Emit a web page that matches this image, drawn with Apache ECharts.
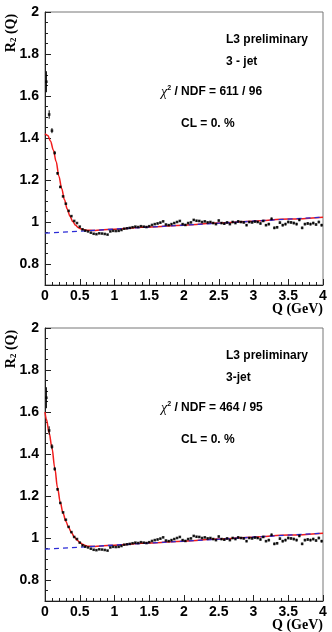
<!DOCTYPE html>
<html>
<head>
<meta charset="utf-8">
<script src="https://cdn.jsdelivr.net/npm/echarts@6/dist/echarts.min.js"></script>
<style>
  html, body { margin: 0; padding: 0; background: #fff; }
  #chart { width: 332px; height: 632px; }
</style>
</head>
<body>
<div id="chart"></div>
<script>
// bin centres (GeV) and measured R2(Q), same data in both panels
const qCenters = [
  0.02, 0.06, 0.10, 0.14, 0.18, 0.22, 0.26, 0.30, 0.34, 0.38,
  0.42, 0.46, 0.50, 0.54, 0.58, 0.62, 0.66, 0.70, 0.74, 0.78,
  0.82, 0.86, 0.90, 0.94, 0.98, 1.02, 1.06, 1.10, 1.14, 1.18,
  1.22, 1.26, 1.30, 1.34, 1.38, 1.42, 1.46, 1.50, 1.54, 1.58,
  1.62, 1.66, 1.70, 1.74, 1.78, 1.82, 1.86, 1.90, 1.94, 1.98,
  2.02, 2.06, 2.10, 2.14, 2.18, 2.22, 2.26, 2.30, 2.34, 2.38,
  2.42, 2.46, 2.50, 2.54, 2.58, 2.62, 2.66, 2.70, 2.74, 2.78,
  2.82, 2.86, 2.90, 2.94, 2.98, 3.02, 3.06, 3.10, 3.14, 3.18,
  3.22, 3.26, 3.30, 3.34, 3.38, 3.42, 3.46, 3.50, 3.54, 3.58,
  3.62, 3.66, 3.70, 3.74, 3.78, 3.82, 3.86, 3.90, 3.94, 3.98,
];
const r2Values = [
  1.668, 1.512, 1.435, 1.329, 1.232, 1.167, 1.122, 1.087, 1.053, 1.028,
  1.005, 0.995, 0.978, 0.965, 0.959, 0.955, 0.949, 0.944, 0.942, 0.946,
  0.945, 0.943, 0.940, 0.955, 0.958, 0.957, 0.958, 0.962, 0.968, 0.970,
  0.972, 0.975, 0.978, 0.976, 0.980, 0.978, 0.976, 0.980, 0.986, 0.990,
  0.993, 0.997, 1.003, 0.988, 0.985, 0.990, 0.995, 1.000, 1.005, 0.990,
  0.986, 0.995, 0.998, 1.010, 1.006, 1.005, 1.000, 1.003, 0.998, 1.000,
  0.995, 0.990, 1.007, 0.995, 0.992, 0.998, 0.990, 1.000, 0.995, 1.003,
  1.000, 0.998, 0.985, 1.000, 0.998, 1.002, 1.000, 0.993, 1.005, 0.985,
  0.990, 1.015, 0.972, 0.975, 0.997, 0.985, 0.990, 1.000, 0.998, 0.995,
  0.990, 1.010, 0.972, 0.990, 0.993, 0.990, 0.995, 0.988, 1.000, 0.985,
];
const r2Errors = [
  0.050, 0.020, 0.012, 0.008, 0.006, 0.005, 0.004, 0.004, 0.003, 0.003,
  0.003, 0.003, 0.003, 0.003, 0.003, 0.003, 0.003, 0.003, 0.003, 0.003,
  0.003, 0.003, 0.003, 0.003, 0.003, 0.003, 0.003, 0.003, 0.003, 0.003,
  0.003, 0.003, 0.003, 0.003, 0.003, 0.003, 0.003, 0.003, 0.003, 0.003,
  0.004, 0.004, 0.004, 0.004, 0.004, 0.004, 0.004, 0.004, 0.004, 0.004,
  0.004, 0.004, 0.004, 0.004, 0.004, 0.004, 0.004, 0.004, 0.004, 0.004,
  0.005, 0.005, 0.005, 0.005, 0.005, 0.005, 0.005, 0.005, 0.005, 0.005,
  0.005, 0.005, 0.005, 0.005, 0.005, 0.005, 0.005, 0.005, 0.005, 0.005,
  0.006, 0.006, 0.006, 0.006, 0.006, 0.006, 0.006, 0.006, 0.006, 0.006,
  0.006, 0.006, 0.006, 0.006, 0.006, 0.006, 0.006, 0.006, 0.006, 0.006,
];

// gaussian fit (top panel)
const gaussFitQ = [0, 0.04, 0.08, 0.12, 0.16, 0.20, 0.24, 0.28, 0.32, 0.36, 0.40, 0.44, 0.48, 0.52, 0.56, 0.60, 0.70, 0.80, 1.0, 1.5, 2.0, 2.5, 3.0, 3.5, 4.0];
const gaussFitR = [1.420, 1.412, 1.385, 1.343, 1.288, 1.218, 1.159, 1.106, 1.062, 1.027, 1.002, 0.984, 0.973, 0.967, 0.963, 0.961, 0.960, 0.962, 0.966, 0.976, 0.985, 0.995, 1.004, 1.014, 1.023];

// exponential-like fit (bottom panel)
const expFitQ = [0, 0.02, 0.06, 0.10, 0.14, 0.18, 0.22, 0.26, 0.30, 0.34, 0.38, 0.42, 0.46, 0.50, 0.54, 0.58, 0.62, 0.70, 0.80, 1.0, 1.5, 2.0, 2.5, 3.0, 3.5, 4.0];
const expFitR = [1.600, 1.565, 1.500, 1.430, 1.335, 1.240, 1.170, 1.118, 1.080, 1.050, 1.026, 1.006, 0.991, 0.979, 0.970, 0.964, 0.961, 0.960, 0.962, 0.966, 0.976, 0.985, 0.995, 1.004, 1.014, 1.023];

// long-range baseline (blue dashed)
const baseQ = [0, 4];
const baseR = [0.947, 1.023];

const xTicks = [0, 0.5, 1, 1.5, 2, 2.5, 3, 3.5, 4];
const yMajorTicks = [0.8, 1.0, 1.2, 1.4, 1.6, 1.8, 2.0];

const panels = [
  { top: 12, fitQ: gaussFitQ, fitR: gaussFitR, jet: "3 - jet", chi: " / NDF = 611 / 96" },
  { top: 328, fitQ: expFitQ, fitR: expFitR, jet: "3-jet", chi: " / NDF = 464 / 95" },
];

const GRID_LEFT = 45;
const GRID_W = 278;
const GRID_H = 273;
const SANS = "'Liberation Sans', Arial, Helvetica, sans-serif";
const SERIF = "'Liberation Serif', 'Times New Roman', serif";
const RED = "#f01c1c";
const BLUE = "#2b2bd6";

function pairs(xs, ys) {
  return xs.map((x, i) => [x, ys[i]]);
}

function buildAxes(index) {
  const xAxis = {
    type: "value",
    gridIndex: index,
    min: 0,
    max: 4,
    interval: 0.5,
    axisLine: { show: true, onZero: false, lineStyle: { color: "#222", width: 1 } },
    axisTick: { show: true, inside: true, length: 6, lineStyle: { color: "#222" } },
    minorTick: { show: true, splitNumber: 5, length: 3, lineStyle: { color: "#222" } },
    splitLine: { show: false },
    axisLabel: {
      margin: 4,
      color: "#000",
      fontWeight: "bold",
      fontSize: 14,
      fontFamily: SANS,
      formatter: (v) => (xTicks.includes(v) ? String(v) : ""),
    },
  };
  const yMinor = {
    type: "value",
    gridIndex: index,
    min: 0.7,
    max: 2.0,
    interval: 0.05,
    axisLine: { show: true, onZero: false, lineStyle: { color: "#222", width: 1 } },
    axisTick: { show: true, inside: true, length: 3, lineStyle: { color: "#222" } },
    splitLine: { show: false },
    axisLabel: {
      margin: 6,
      color: "#000",
      fontWeight: "bold",
      fontSize: 14,
      fontFamily: SANS,
      formatter: (v) => {
        const c = Math.round(v * 100);
        if (c < 80 || c % 20 !== 0) {
          return "";
        }
        return String(c / 100);
      },
    },
  };
  const yMajor = {
    type: "value",
    gridIndex: index,
    position: "left",
    offset: 0,
    min: 0.7,
    max: 2.0,
    axisLine: { show: false },
    axisTick: { show: true, inside: true, length: 6, customValues: yMajorTicks, lineStyle: { color: "#222" } },
    axisLabel: { show: false },
    splitLine: { show: false },
  };
  return { xAxis, yAxes: [yMinor, yMajor] };
}

function buildSeries(panel, index) {
  const yIdx = index * 2;
  const points = qCenters.map((q, i) => [q, r2Values[i], r2Errors[i]]);
  return [
    {
      type: "line",
      xAxisIndex: index,
      yAxisIndex: yIdx,
      data: pairs(panel.fitQ, panel.fitR),
      smooth: 0.35,
      smoothMonotone: "x",
      showSymbol: false,
      lineStyle: { color: RED, width: 1.5 },
      z: 2,
      silent: true,
    },
    {
      type: "line",
      xAxisIndex: index,
      yAxisIndex: yIdx,
      data: pairs(baseQ, baseR),
      showSymbol: false,
      lineStyle: { color: BLUE, width: 1.3, type: [5, 4] },
      z: 3,
      silent: true,
    },
    {
      type: "custom",
      xAxisIndex: index,
      yAxisIndex: yIdx,
      data: points,
      z: 4,
      silent: true,
      renderItem: (params, api) => {
        const q = api.value(0);
        const v = api.value(1);
        const e = api.value(2);
        const lo = api.coord([q, v - e]);
        const hi = api.coord([q, v + e]);
        return {
          type: "line",
          shape: { x1: lo[0], y1: lo[1], x2: hi[0], y2: hi[1] },
          style: { stroke: "#000", lineWidth: 1 },
        };
      },
    },
    {
      type: "scatter",
      xAxisIndex: index,
      yAxisIndex: yIdx,
      data: points.map((p) => [p[0], p[1]]),
      symbol: "rect",
      symbolSize: 2.6,
      itemStyle: { color: "#000" },
      z: 5,
      silent: true,
    },
  ];
}

function buildTexts(panel) {
  const t = panel.top - 12;
  const bold12 = `bold 12px ${SANS}`;
  return [
    {
      type: "text",
      x: 226, y: t + 40,
      style: { text: "L3 preliminary", font: bold12, fill: "#000", verticalAlign: "middle" },
    },
    {
      type: "text",
      x: 226, y: t + 62,
      style: { text: panel.jet, font: bold12, fill: "#000", verticalAlign: "middle" },
    },
    {
      type: "text",
      x: 161, y: t + 92,
      style: {
        text: `{chi|χ}{sup|2}{t|${panel.chi}}`,
        verticalAlign: "middle",
        rich: {
          chi: { font: `italic 14px ${SERIF}`, fill: "#000" },
          sup: { font: `bold 7px ${SANS}`, fill: "#000", verticalAlign: "top", padding: [0, 0, 8, 0] },
          t: { font: bold12, fill: "#000" },
        },
      },
    },
    {
      type: "text",
      x: 181, y: t + 124,
      style: { text: "CL = 0. %", font: bold12, fill: "#000", verticalAlign: "middle" },
    },
    {
      type: "text",
      x: 323, y: t + 309,
      style: { text: "Q (GeV)", font: `bold 14px ${SERIF}`, fill: "#000", align: "right", verticalAlign: "middle" },
    },
    {
      type: "text",
      x: 11, y: t + 33,
      rotation: Math.PI / 2,
      style: {
        text: "{r|R}{s|2}{r| (Q)}",
        align: "center",
        verticalAlign: "middle",
        rich: {
          r: { font: `bold 14px ${SERIF}`, fill: "#000" },
          s: { font: `bold 9px ${SERIF}`, fill: "#000", padding: [6, 0, 0, 0] },
        },
      },
    },
  ];
}

function setup() {
  const chart = echarts.init(document.getElementById("chart"), null, { renderer: "canvas" });
  const grids = [];
  const xAxes = [];
  const yAxes = [];
  let series = [];
  let graphics = [];

  panels.forEach((panel, i) => {
    grids.push({
      left: GRID_LEFT,
      top: panel.top,
      width: GRID_W,
      height: GRID_H,
      containLabel: false,
      outerBoundsMode: "none",
      show: true,
      borderColor: "#777",
      borderWidth: 1,
      backgroundColor: "transparent",
    });
    const axes = buildAxes(i);
    xAxes.push(axes.xAxis);
    yAxes.push(...axes.yAxes);
    series = series.concat(buildSeries(panel, i));
    graphics = graphics.concat(buildTexts(panel));
  });

  chart.setOption({
    animation: false,
    backgroundColor: "#fff",
    grid: grids,
    xAxis: xAxes,
    yAxis: yAxes,
    series,
    graphic: graphics,
  });
}

setup();
</script>
</body>
</html>
